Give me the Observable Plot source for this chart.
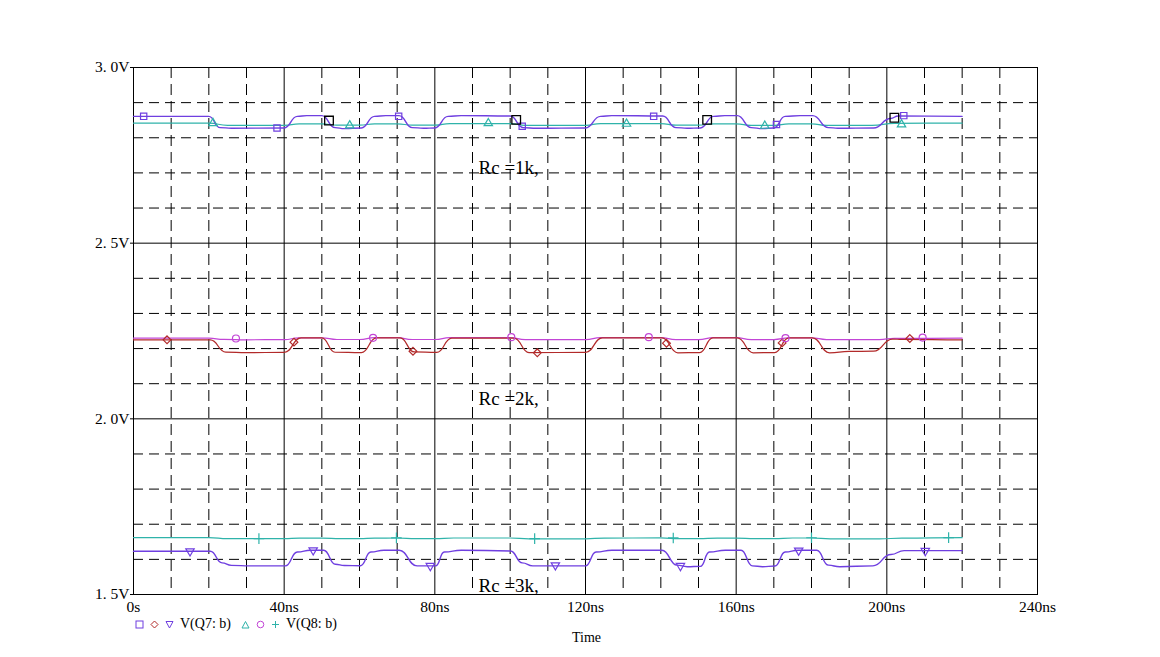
<!DOCTYPE html>
<html><head><meta charset="utf-8">
<script src="https://cdn.jsdelivr.net/npm/d3@7"></script>
<script src="https://cdn.jsdelivr.net/npm/@observablehq/plot@0.6"></script>
<style>
body{margin:0;background:#fff;}
#wrap{position:relative;width:1160px;height:657px;font-family:"Liberation Serif",serif;color:#000;}
#legend{position:absolute;left:135px;top:616px;font-size:14px;line-height:16px;white-space:nowrap;display:flex;align-items:center;}
#legend svg{margin-right:6px;}
#legend span{margin-right:10px;}
#xlabel{position:absolute;left:572px;top:630px;font-size:14px;}
</style></head>
<body><div id="wrap"><div id="chart"></div><div id="legend"></div><div id="xlabel">Time</div></div>
<script>
// ---- tick values ----
const xMajor = [0, 40, 80, 120, 160, 200, 240];
const xMinor = [10, 20, 30, 50, 60, 70, 90, 100, 110, 130, 140, 150, 170, 180, 190, 210, 220, 230];
const yMajor = [1.5, 2.0, 2.5, 3.0];
const yMinor = [1.6, 1.7, 1.8, 1.9, 2.1, 2.2, 2.3, 2.4, 2.6, 2.7, 2.8, 2.9];
const xTickLabels = ["0s", "40ns", "80ns", "120ns", "160ns", "200ns", "240ns"];
const yTickLabels = ["1. 5V", "2. 0V", "2. 5V", "3. 0V"];

// ---- traces: [time ns, volts] ----
const q7_1k = [[0,2.861],[20,2.861],[23,2.829],[26,2.827],[40,2.828],[43.5,2.861],[46,2.863],[50,2.863],[53.5,2.829],[56,2.826],[60.5,2.828],[64,2.861],[67,2.863],[70.5,2.863],[74,2.829],[77,2.827],[80,2.828],[83.5,2.861],[87,2.863],[100,2.862],[103.5,2.829],[107,2.827],[120,2.828],[124,2.861],[127,2.863],[140.5,2.862],[144,2.829],[147,2.827],[150.5,2.828],[154,2.861],[157,2.863],[160.3,2.863],[164,2.829],[167,2.826],[170,2.828],[173,2.861],[177,2.863],[180.3,2.863],[184.5,2.829],[187,2.827],[196.5,2.828],[201,2.855],[203,2.862],[220,2.861]];
const q8_1k = [[0,2.8416],[20,2.8416],[25,2.8355],[40,2.8355],[44,2.8398],[50,2.8398],[54,2.8358],[60,2.8358],[64,2.8398],[70,2.8398],[74,2.8358],[80,2.8358],[84,2.8405],[100,2.8405],[104,2.8355],[120,2.8355],[124,2.8405],[140,2.8405],[144,2.8358],[150,2.8358],[154,2.8398],[160,2.8398],[164,2.835],[170,2.835],[174,2.8398],[180,2.8398],[184,2.835],[196,2.835],[202,2.8412],[220,2.8416]];
const q7_2k = [[0,2.2248],[20.4,2.2248],[24.5,2.190],[30,2.1885],[40,2.1890],[44.5,2.2305],[50,2.2305],[53.5,2.1895],[60.5,2.1885],[64.5,2.2305],[70.8,2.2305],[74.5,2.1905],[80.5,2.1890],[84.5,2.2300],[101,2.2300],[105,2.1885],[120,2.1890],[124.5,2.2305],[140.3,2.2305],[144.5,2.1880],[150.3,2.1885],[153.8,2.2305],[160.3,2.2305],[164.5,2.1880],[170.2,2.1885],[174,2.2305],[180.2,2.2305],[184.8,2.1880],[190,2.1920],[196.5,2.1925],[201.5,2.2270],[204,2.2260],[220,2.2248]];
const q8_2k = [[0,2.2295],[20,2.2295],[24,2.2262],[30,2.2250],[40,2.2255],[44,2.2305],[50,2.2305],[54,2.2258],[60,2.2258],[64,2.2310],[70,2.2310],[74,2.2258],[80,2.2258],[84,2.2310],[100,2.2310],[104,2.2257],[120,2.2257],[124,2.2312],[140,2.2312],[144,2.2257],[150,2.2257],[154,2.2310],[160,2.2310],[164,2.2257],[170,2.2257],[174,2.2305],[180,2.2305],[184,2.2257],[198,2.2257],[202,2.2290],[220,2.2295]];
const q7_3k = [[0,1.6232],[20.4,1.6232],[23.5,1.5900],[26,1.5830],[31,1.5815],[40.3,1.5815],[43.5,1.6210],[47,1.6261],[50.5,1.6261],[53.6,1.5860],[56,1.5825],[60.3,1.5820],[63,1.6210],[66.5,1.6261],[70.5,1.6261],[75.3,1.5815],[80.2,1.5815],[82.5,1.6210],[87,1.6261],[100.1,1.6240],[103.2,1.5900],[106,1.5815],[120,1.5815],[122.8,1.6210],[127,1.6261],[140.3,1.6261],[144.3,1.5835],[147,1.5790],[150.5,1.5800],[152.9,1.6210],[157.1,1.6261],[161.3,1.6261],[164.3,1.5815],[167,1.5790],[170.3,1.5810],[173,1.6210],[176.5,1.6261],[181.4,1.6261],[184.5,1.5835],[187.5,1.5790],[196.3,1.5815],[201.1,1.6140],[204.6,1.6250],[220,1.6250]];
const q8_3k = [[0,1.6621],[20,1.6621],[25,1.6590],[40,1.6590],[44,1.6605],[50,1.6605],[55,1.6588],[60,1.6588],[64,1.6605],[70,1.6608],[75,1.6592],[80,1.6592],[85,1.6608],[100,1.6608],[105,1.6585],[120,1.6585],[125,1.6605],[140,1.6610],[145,1.6590],[150,1.6590],[155,1.6605],[160,1.6605],[165,1.6588],[170,1.6588],[175,1.6608],[180,1.6608],[185,1.6585],[198,1.6583],[204,1.6605],[220,1.6618]];

// ---- trace markers ----
const mkSquare1k = [[2.7,2.861],[38.1,2.828],[70.4,2.861],[103.2,2.833],[138.1,2.861],[170.7,2.838],[204.5,2.863]];
const mkBlackSq = [[51.9,2.849],[101.6,2.851],[152.3,2.851],[202,2.857]];
const mkTriUp1k = [[21.1,2.8416],[57.4,2.835],[94.2,2.8412],[130.9,2.8396],[167.6,2.834],[203.9,2.838]];
const mkDiamond2k = [[8.9,2.2248],[42.6,2.2183],[74.2,2.1925],[107.2,2.1878],[141.5,2.2153],[172.2,2.2162],[206.1,2.2286]];
const mkCircle2k = [[27.2,2.2286],[63.6,2.2305],[100.3,2.2325],[136.8,2.2325],[173.1,2.2295],[209.5,2.2314]];
const mkTriDown3k = [[15.0,1.6232],[47.7,1.6261],[78.8,1.5815],[112,1.5834],[145.2,1.5815],[176.6,1.625],[210.2,1.6242]];
const mkPlus3k = [[33.3,1.659],[69.8,1.6612],[106.5,1.659],[143.3,1.661],[180,1.6615],[216.4,1.6618]];

// ---- annotations ----
const annText = ["Rc =1k,", "Rc =2k,", "Rc =3k,"];
const annTime = [91.6, 91.6, 91.6];
const annVolt = [2.715, 2.058, 1.525];

const PURPLE = "#6f3fe0", TEAL = "#2fb3aa", RED = "#b22a2a", MAGENTA = "#c245d6";
const X = d => d[0], Y = d => d[1];
const ann = annText.map((s, i) => ({s, t: annTime[i], v: annVolt[i]}));

const chart = Plot.plot({
  width: 1160, height: 657,
  marginLeft: 133, marginRight: 123, marginTop: 67, marginBottom: 63,
  style: {fontFamily: "'Liberation Serif', serif", fontSize: "15.5px", background: "white", color: "#000"},
  x: {domain: [0, 240], ticks: xMajor, tickFormat: d => xTickLabels[xMajor.indexOf(d)], tickSize: 0, tickPadding: 6, label: null},
  y: {domain: [1.5, 3.0], ticks: yMajor, tickFormat: d => yTickLabels[yMajor.indexOf(d)], tickSize: 3, tickPadding: 1, label: null},
  marks: [
    Plot.ruleX(xMinor, {stroke: "#000", strokeWidth: 1, strokeDasharray: "11,6"}),
    Plot.ruleY(yMinor, {stroke: "#000", strokeWidth: 1, strokeDasharray: "10,6"}),
    Plot.ruleX(xMajor, {stroke: "#000", strokeWidth: 1}),
    Plot.ruleY(yMajor, {stroke: "#000", strokeWidth: 1}),
    Plot.frame({stroke: "#000", strokeWidth: 1}),
    Plot.line(q8_1k, {x: X, y: Y, curve: "bump-x", stroke: TEAL, strokeWidth: 1.2}),
    Plot.line(q7_1k, {x: X, y: Y, curve: "bump-x", stroke: PURPLE, strokeWidth: 1.4}),
    Plot.line(q8_2k, {x: X, y: Y, curve: "bump-x", stroke: MAGENTA, strokeWidth: 1.2}),
    Plot.line(q7_2k, {x: X, y: Y, curve: "bump-x", stroke: RED, strokeWidth: 1.2}),
    Plot.line(q8_3k, {x: X, y: Y, curve: "bump-x", stroke: TEAL, strokeWidth: 1.2}),
    Plot.line(q7_3k, {x: X, y: Y, curve: "bump-x", stroke: PURPLE, strokeWidth: 1.4}),
    Plot.dot(mkSquare1k, {x: X, y: Y, symbol: "square2", r: 4, stroke: PURPLE, fill: "none", strokeWidth: 1.2}),
    Plot.dot(mkBlackSq, {x: X, y: Y, symbol: "square2", r: 5.5, stroke: "#000", fill: "none", strokeWidth: 1.3}),
    Plot.dot(mkTriUp1k, {x: X, y: Y, symbol: "triangle2", r: 4, stroke: TEAL, fill: "none", strokeWidth: 1.2}),
    Plot.dot(mkDiamond2k, {x: X, y: Y, symbol: "diamond2", r: 3.5, stroke: RED, fill: "none", strokeWidth: 1.2}),
    Plot.dot(mkCircle2k, {x: X, y: Y, symbol: "circle", r: 3.5, stroke: MAGENTA, fill: "none", strokeWidth: 1.2}),
    Plot.dot(mkTriDown3k, {x: X, y: Y, symbol: "triangle2", rotate: 180, r: 4, stroke: PURPLE, fill: "none", strokeWidth: 1.2}),
    Plot.dot(mkPlus3k, {x: X, y: Y, symbol: "plus", r: 3.5, stroke: TEAL, fill: "none", strokeWidth: 1.2}),
    Plot.text(ann, {x: "t", y: "v", text: "s", textAnchor: "start", fontSize: 19, fill: "#000"})
  ]
});
document.getElementById("chart").appendChild(chart);

// enlarge axis tick labels to match the reference
const tickTexts = new Set([...xTickLabels, ...yTickLabels]);
d3.select(chart).selectAll("text").each(function () {
  if (tickTexts.has(this.textContent.trim())) {
    this.setAttribute("font-size", "15.5");
    this.style.fontSize = "15.5px";
    const p = this.parentNode;
    if (p && p.setAttribute) { p.setAttribute("font-size", "15.5"); p.style.fontSize = "15.5px"; }
  }
});

// ---- legend (HTML) ----
const sym = (shape, color) => {
  const s = 9;
  let inner = "";
  if (shape === "square") inner = `<rect x="1" y="1" width="7" height="7" fill="none" stroke="${color}"/>`;
  if (shape === "diamond") inner = `<path d="M4.5 1L8 4.5L4.5 8L1 4.5Z" fill="none" stroke="${color}"/>`;
  if (shape === "tridown") inner = `<path d="M1 1.5H8L4.5 8Z" fill="none" stroke="${color}"/>`;
  if (shape === "triup") inner = `<path d="M1 8H8L4.5 1.5Z" fill="none" stroke="${color}"/>`;
  if (shape === "circle") inner = `<circle cx="4.5" cy="4.5" r="3.3" fill="none" stroke="${color}"/>`;
  if (shape === "plus") inner = `<path d="M4.5 1V8M1 4.5H8" fill="none" stroke="${color}"/>`;
  return `<svg width="${s}" height="${s}" viewBox="0 0 9 9">${inner}</svg>`;
};
const legendItems = [
  {shapes: [["square", PURPLE], ["diamond", RED], ["tridown", PURPLE]], label: "V(Q7: b)"},
  {shapes: [["triup", TEAL], ["circle", MAGENTA], ["plus", TEAL]], label: "V(Q8: b)"}
];
document.getElementById("legend").innerHTML = legendItems.map(it =>
  it.shapes.map(([sh, c]) => sym(sh, c)).join("") + `<span>${it.label}</span>`
).join("");
</script>
</body></html>
